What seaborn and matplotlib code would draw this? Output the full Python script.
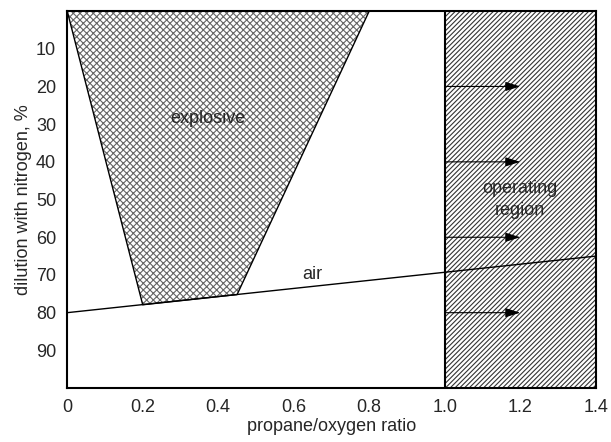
import matplotlib
matplotlib.use("Agg")
import matplotlib.pyplot as plt
import seaborn as sns
import pandas as pd

# Explosive envelope (propane/oxygen ratio, dilution %)
explosive_ratio = [0.0, 0.8, 0.45, 0.2]
explosive_dilution = [0.0, 0.0, 75.2, 77.9]

# Air line
air_ratio = [0.0, 1.4]
air_dilution = [80.0, 65.0]

# Operating region bounds
operating_ratio = [1.0, 1.4]
operating_dilution = [0.0, 100.0]

# Arrows inside the operating region
arrow_levels = [20, 40, 60, 80]
arrow_start, arrow_end = 1.0, 1.2

x_ticks = [0, 0.2, 0.4, 0.6, 0.8, 1.0, 1.2, 1.4]
x_tick_labels = ["0", "0.2", "0.4", "0.6", "0.8", "1.0", "1.2", "1.4"]
y_ticks = [10, 20, 30, 40, 50, 60, 70, 80, 90]

sns.set_style("white")
plt.rcParams["font.family"] = ["Liberation Sans", "DejaVu Sans"]
plt.rcParams["hatch.linewidth"] = 0.8

fig, ax = plt.subplots(figsize=(6.11, 4.42), dpi=100)
fig.subplots_adjust(left=0.11, right=0.975, top=0.975, bottom=0.122)

# explosive region
ax.fill(explosive_ratio, explosive_dilution, facecolor="white",
        edgecolor="#666666", hatch="xxxxx", linewidth=0)
ax.plot(explosive_ratio + [explosive_ratio[0]],
        explosive_dilution + [explosive_dilution[0]],
        color="black", linewidth=1.0)

# operating region
ax.fill_between(operating_ratio, operating_dilution[0], operating_dilution[1],
                facecolor="white", edgecolor="#333333", hatch="///////",
                linewidth=0)
ax.axvline(operating_ratio[0], color="black", linewidth=1.5)

# air line
air_df = pd.DataFrame({"ratio": air_ratio, "dilution": air_dilution})
sns.lineplot(data=air_df, x="ratio", y="dilution", color="black",
             linewidth=1.0, ax=ax)

for lvl in arrow_levels:
    ax.annotate("", xy=(arrow_end, lvl), xytext=(arrow_start, lvl),
                arrowprops=dict(arrowstyle="-|>,head_length=0.9,head_width=0.28",
                                color="black", linewidth=0.8,
                                shrinkA=0, shrinkB=0))

ax.text(0.373, 28.6, "explosive", ha="center", va="center", fontsize=13)
ax.text(1.2, 50, "operating\nregion", ha="center", va="center", fontsize=13,
        linespacing=1.45)
ax.text(0.65, 69.8, "air", ha="center", va="center", fontsize=13)

ax.set_xlim(0, 1.4)
ax.set_ylim(100, 0)
ax.set_xticks(x_ticks)
ax.set_xticklabels(x_tick_labels)
ax.set_yticks(y_ticks)
ax.tick_params(axis="both", length=0, labelsize=13, pad=8)
ax.set_xlabel("propane/oxygen ratio", fontsize=13, labelpad=1)
ax.set_ylabel("dilution with nitrogen, %", fontsize=13, labelpad=3)

for s in ax.spines.values():
    s.set_color("black")
    s.set_linewidth(1.5)

fig.savefig("out.png", dpi=100)
